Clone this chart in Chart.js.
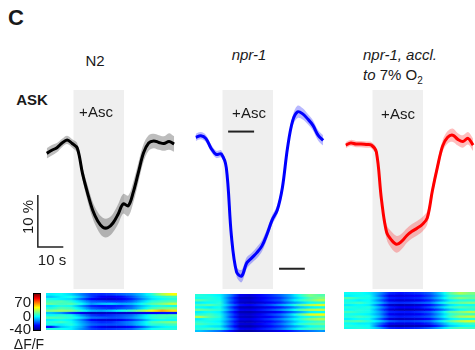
<!DOCTYPE html>
<html>
<head>
<meta charset="utf-8">
<script src="https://cdn.jsdelivr.net/npm/chart.js@4/dist/chart.umd.min.js"></script>
<style>
  body { margin: 0; width: 475px; height: 350px; overflow: hidden; background: #fff; position: relative;
         font-family: Arial, "Liberation Sans", sans-serif; color: #1a1a1a; }
  canvas { position: absolute; }
  .t { position: absolute; transform: translate(-50%, -50%); line-height: 1; font-size: 15px; white-space: nowrap; }
  .l { position: absolute; line-height: 1; font-size: 15px; white-space: nowrap; }
  .r { position: absolute; line-height: 1; font-size: 15px; text-align: right; width: 30px; }
  .b { font-weight: bold; }
  .i { font-style: italic; }
  #cbar { position: absolute; left: 33px; top: 293px; width: 6px; height: 36px; border: 1px solid #000;
          background: linear-gradient(to bottom, #7f0000, #ff0000 12.5%, #ffff00 37.5%, #00ffff 62.5%, #0000ff 87.5%, #00007f); }
</style>
</head>
<body>
<div class="t b" style="left:16px;top:18px;font-size:22px">C</div>
<div class="t b" style="left:32px;top:99px">ASK</div>
<div class="t" style="left:95px;top:60px">N2</div>
<div class="t i" style="left:249px;top:54px">npr-1</div>
<div class="l" style="left:363px;top:47px"><span class="i">npr-1, accl.</span></div>
<div class="l" style="left:363px;top:67px"><span class="i">to</span> 7% O<sub style="font-size:10px">2</sub></div>

<canvas id="tr1" width="160" height="199" style="left:20px;top:90px"></canvas>
<canvas id="tr2" width="160" height="199" style="left:169px;top:90px"></canvas>
<canvas id="tr3" width="160" height="199" style="left:319px;top:90px"></canvas>

<div class="t" style="left:96px;top:111px">+Asc</div>
<div class="t" style="left:249px;top:112px">+Asc</div>
<div class="t" style="left:398px;top:113px">+Asc</div>

<div class="t" style="left:27px;top:217px;transform:translate(-50%,-50%) rotate(-90deg)">10 %</div>
<div class="t" style="left:52px;top:259px">10 s</div>

<canvas id="hm1" width="131" height="37" style="left:46px;top:293px"></canvas>
<canvas id="hm2" width="130" height="38" style="left:195px;top:294px"></canvas>
<canvas id="hm3" width="131" height="37" style="left:344px;top:292px"></canvas>

<div id="cbar"></div>
<div class="r" style="left:1px;top:294px">70</div>
<div class="r" style="left:1px;top:308px">0</div>
<div class="r" style="left:1px;top:321px">-40</div>
<div class="t" style="left:29px;top:344px;font-size:14px">ΔF/F</div>

<script>
/* ASK Ca imaging, ascaroside response — three genotypes */

/* ── Data: mean ΔF/F (%) and SEM, sampled every 2 s ── */
const TIME = [0, 2, 4, 6, 8, 10, 12, 14, 16, 18, 20, 22, 24, 26, 28, 30, 32, 34, 36, 38, 40, 42, 44, 46, 48, 50];
const STIM_ON = 10.5, STIM_OFF = 30.3;

const N2_MEAN = [-1.6, -1.0, -0.5, 0.4, 1.0, 0.3, -0.6, -5.4, -9.2, -12.5, -14.6, -15.8, -15.9, -15.0, -13.3, -11.3, -11.7, -9.0, -5.2, -1.5, 0.4, 0.8, 0.5, 0.3, 0.7, 0.2];
const N2_SEM = [1.0, 1.0, 0.9, 0.8, 0.8, 0.8, 0.9, 1.2, 1.5, 1.6, 1.7, 1.8, 1.8, 1.8, 1.9, 1.9, 2.0, 2.0, 1.9, 1.7, 1.5, 1.4, 1.4, 1.4, 1.6, 1.5];

const NPR1_MEAN = [1.5, 1.8, 1.25, -0.6, -1.8, -1.7, -4.4, -17.5, -24.4, -25.2, -22.7, -21.7, -20.7, -19.4, -17.1, -14.4, -12.5, -8.2, -0.6, 4.6, 6.4, 6.0, 5.0, 3.8, 1.9, 0.9];
const NPR1_SEM = [0.7, 0.7, 0.7, 0.7, 0.7, 0.7, 0.6, 0.6, 0.9, 1.2, 1.1, 1.0, 1.1, 1.1, 1.0, 0.9, 0.9, 0.8, 0.8, 1.0, 1.2, 1.1, 1.0, 1.0, 1.0, 1.0];

const ACCL_MEAN = [0, 0.4, 0.2, 0.2, 0.1, 0, -1.3, -10.4, -16.7, -18.3, -19.1, -18.5, -17.4, -16.6, -16.0, -15.3, -14.0, -8.8, -4.2, -0.2, 1.5, 1.9, 1.1, 0.7, 1.3, 0];
const ACCL_SEM = [0.6, 0.6, 0.6, 0.6, 0.6, 0.6, 0.7, 1.0, 1.4, 1.6, 1.6, 1.5, 1.4, 1.4, 1.4, 1.4, 1.3, 1.1, 1.0, 1.1, 1.2, 1.3, 1.2, 1.2, 1.2, 1.2];

// npr-1 reference levels (s, %)
const REF_T = [[12.7, 22.9], [32.7, 42.8]];
const REF_Y = [2.6, -23.8];

// scale bar: 10 % x 10 s
const SCALE_T0 = -3.5, SCALE_Y0 = -19.6, SCALE_SEC = 10, SCALE_PCT = 10;

/* ── Data: single-animal heatmaps (rows = animals, ΔF/F %) ── */
const N2_HEAT = [
  [0, 2, -3, -12, -20, -22, -20, -16, -12, -5, 5, 20, 28],
  [-5, 0, 3, -8, -20, -27, -28, -25, -18, -8, 0, 5, 8],
  [3, 0, -2, -15, -26, -30, -31, -28, -22, -12, -2, 2, 5],
  [8, 10, 5, -5, -16, -18, -20, -20, -15, -5, 5, 8, 10],
  [12, 8, 10, 2, -10, -6, -4, -8, -6, 2, 10, 15, 22],
  [0, 5, 3, -10, -22, -25, -24, -22, -16, -6, 2, 5, 3],
  [5, 10, 8, -3, -16, -20, -22, -18, -14, -3, 8, 12, 15],
  [15, 18, 15, 5, -6, -8, -4, 3, 8, 18, 28, 38, 32],
  [-5, -10, -20, -28, -33, -33, -32, -32, -31, -29, -27, -25, -24],
  [2, 5, 3, -10, -20, -23, -21, -18, -14, -5, 5, 8, 10],
  [10, 8, 5, -3, -14, -16, -18, -16, -11, -3, 5, 8, 5],
  [0, 3, 0, -12, -26, -30, -30, -27, -21, -12, 0, 3, 2],
  [5, 8, 3, -8, -18, -22, -21, -16, -11, -3, 8, 12, 15],
  [3, 0, 5, -6, -15, -18, -18, -16, -11, -3, 5, 5, 8],
  [-25, -5, 0, -8, -22, -28, -30, -28, -25, -17, -5, 0, 3],
  [5, 3, 0, -10, -19, -22, -21, -19, -16, -7, 2, 5, 5],
];
const NPR1_HEAT = [
  [5, 3, 0, -12, -28, -30, -26, -22, -16, -8, 5, 15, 10],
  [3, 5, 2, -16, -32, -33, -28, -24, -20, -10, 0, 10, 15],
  [10, 5, 3, -14, -30, -31, -27, -22, -17, -6, 5, 12, 20],
  [0, 2, 5, -17, -32, -34, -31, -27, -22, -13, -5, 2, 5],
  [8, 10, 5, -10, -25, -27, -23, -18, -10, -2, 10, 20, 25],
  [2, 0, 3, -17, -33, -34, -31, -27, -23, -15, -5, 0, 3],
  [12, 8, 5, -12, -28, -29, -25, -20, -13, -4, 8, 18, 22],
  [0, 3, 0, -19, -34, -35, -32, -29, -25, -17, -8, 0, 2],
  [5, 8, 3, -14, -30, -31, -27, -21, -15, -5, 10, 25, 28],
  [20, 10, 5, -17, -32, -33, -29, -26, -20, -10, 0, 5, 10],
  [0, 5, 2, -12, -28, -29, -25, -20, -13, -4, 5, 15, 20],
  [5, 3, 0, -17, -33, -34, -30, -26, -20, -10, 0, 5, 8],
  [8, 5, 3, -14, -30, -31, -27, -22, -15, -6, 5, 10, 12],
  [3, 0, -2, -19, -34, -35, -31, -26, -21, -13, -5, 2, 5],
  [5, 8, 5, -12, -28, -29, -25, -21, -15, -6, 3, 8, 10],
  [-5, -10, -15, -25, -35, -36, -33, -31, -28, -24, -18, -14, -10],
];
const ACCL_HEAT = [
  [2, 3, 0, -10, -22, -25, -23, -21, -16, -5, 10, 20, 15],
  [0, 2, 3, -13, -28, -30, -28, -26, -20, -9, 5, 8, 10],
  [10, 5, 3, -8, -23, -25, -24, -22, -16, -5, 8, 15, 12],
  [3, 0, 2, -13, -28, -31, -30, -28, -22, -12, 0, 5, 5],
  [5, 8, 3, -6, -20, -22, -21, -18, -14, -2, 8, 12, 15],
  [0, 2, 0, -16, -31, -34, -33, -31, -25, -15, -2, 3, 3],
  [5, 3, 5, -8, -23, -27, -27, -25, -18, -7, 5, 10, 8],
  [2, 5, 3, -13, -30, -34, -34, -32, -27, -17, -5, 2, 5],
  [8, 5, 3, -8, -22, -24, -24, -21, -16, -5, 10, 15, 20],
  [3, 2, 0, -10, -27, -30, -29, -27, -21, -9, 5, 10, 8],
  [5, 8, 5, -6, -21, -24, -23, -21, -16, -5, 8, 18, 22],
  [0, 3, 2, -13, -30, -33, -32, -30, -25, -13, 0, 5, 5],
  [8, 10, 5, -3, -16, -20, -20, -18, -14, -2, 10, 20, 25],
  [2, 0, 0, -13, -27, -29, -29, -27, -22, -12, 0, 5, 8],
  [5, 3, 2, -18, -33, -35, -34, -33, -30, -19, -5, 0, 3],
  [3, 5, 3, -8, -22, -24, -23, -21, -16, -7, 5, 10, 8],
];
const HEAT_MIN = -40, HEAT_MAX = 70;

/* ── Axes ranges shared by the three trace panels ── */
const X_MIN = -10.5, X_MAX = 52.3;
const Y_MIN = -27.7, Y_MAX = 10.6;

(function () {
  const pts = arr => arr.map((v, i) => ({ x: TIME[i], y: v }));

  // grey box behind the traces while ascaroside is on
  const stimBox = {
    id: "stimBox",
    beforeDatasetsDraw(chart) {
      const { ctx, chartArea: a, scales: { x } } = chart;
      const x0 = x.getPixelForValue(STIM_ON), x1 = x.getPixelForValue(STIM_OFF);
      ctx.save();
      ctx.fillStyle = "#efefef";
      ctx.fillRect(x0, a.top, x1 - x0, a.bottom - a.top);
      ctx.restore();
    },
  };

  function segment(points, width) {
    return { data: points, borderColor: "#222", borderWidth: width, pointRadius: 0, tension: 0, fill: false };
  }

  function traceChart(id, mean, sem, color, band, extra) {
    new Chart(document.getElementById(id), {
      type: "line",
      data: {
        datasets: [
          { data: pts(mean.map((v, i) => v + sem[i])), borderWidth: 0, pointRadius: 0, tension: 0.35,
            fill: "+1", backgroundColor: band },
          { data: pts(mean.map((v, i) => v - sem[i])), borderWidth: 0, pointRadius: 0, tension: 0.35, fill: false },
          { data: pts(mean), borderColor: color, borderWidth: 3, pointRadius: 0, tension: 0.35, fill: false },
          ...extra,
        ],
      },
      options: {
        responsive: false, animation: false,
        layout: { padding: 0 },
        plugins: { legend: { display: false }, tooltip: { enabled: false } },
        scales: {
          x: { type: "linear", min: X_MIN, max: X_MAX, display: false },
          y: { min: Y_MIN, max: Y_MAX, display: false },
        },
      },
      plugins: [stimBox],
    });
  }

  /* ── Traces ── */
  const scaleBar = segment([
    { x: SCALE_T0, y: SCALE_Y0 + SCALE_PCT },
    { x: SCALE_T0, y: SCALE_Y0 },
    { x: SCALE_T0 + SCALE_SEC, y: SCALE_Y0 },
  ], 1.5);
  const refLines = REF_T.map((t, i) => segment([{ x: t[0], y: REF_Y[i] }, { x: t[1], y: REF_Y[i] }], 2));

  traceChart("tr1", N2_MEAN, N2_SEM, "#000000", "rgba(0,0,0,0.26)", [scaleBar]);
  traceChart("tr2", NPR1_MEAN, NPR1_SEM, "#0000ff", "rgba(0,0,255,0.28)", refLines);
  traceChart("tr3", ACCL_MEAN, ACCL_SEM, "#ff0000", "rgba(255,0,0,0.26)", []);

  /* ── Heatmaps (jet colormap, smoothed along time inside each cell) ── */
  function jet(v) {
    const t = Math.max(0, Math.min(1, (v - HEAT_MIN) / (HEAT_MAX - HEAT_MIN)));
    const c = k => Math.round(255 * Math.max(0, Math.min(1, 1.5 - Math.abs(4 * t - k))));
    return `rgb(${c(3)},${c(2)},${c(1)})`;
  }

  function cellFill(ctx, row) {
    const i = ctx.dataIndex, x = ctx.chart.scales.x;
    const v = row[i] ?? 0;
    if (ctx.type !== "data" || !x) return jet(v);
    const w = x.width / row.length, c = x.getPixelForValue(i);
    if (!isFinite(c) || !isFinite(w) || w <= 0) return jet(v);
    const prev = row[Math.max(0, i - 1)], next = row[Math.min(row.length - 1, i + 1)];
    const g = ctx.chart.ctx.createLinearGradient(c - w / 2, 0, c + w / 2, 0);
    g.addColorStop(0, jet((prev + v) / 2));
    g.addColorStop(0.5, jet(v));
    g.addColorStop(1, jet((v + next) / 2));
    return g;
  }

  function heatChart(id, rows) {
    new Chart(document.getElementById(id), {
      type: "bar",
      data: {
        labels: rows[0].map((_, i) => i),
        datasets: rows.map((row, r) => ({
          data: row.map(() => [r, r + 1]),
          backgroundColor: ctx => cellFill(ctx, row),
          borderWidth: 0, grouped: false,
          categoryPercentage: 1, barPercentage: 1,
        })),
      },
      options: {
        responsive: false, animation: false,
        layout: { padding: 0 },
        plugins: { legend: { display: false }, tooltip: { enabled: false } },
        scales: {
          x: { display: false },
          y: { display: false, min: 0, max: rows.length, reverse: true },
        },
      },
    });
  }

  heatChart("hm1", N2_HEAT);
  heatChart("hm2", NPR1_HEAT);
  heatChart("hm3", ACCL_HEAT);
})();
</script>
</body>
</html>
